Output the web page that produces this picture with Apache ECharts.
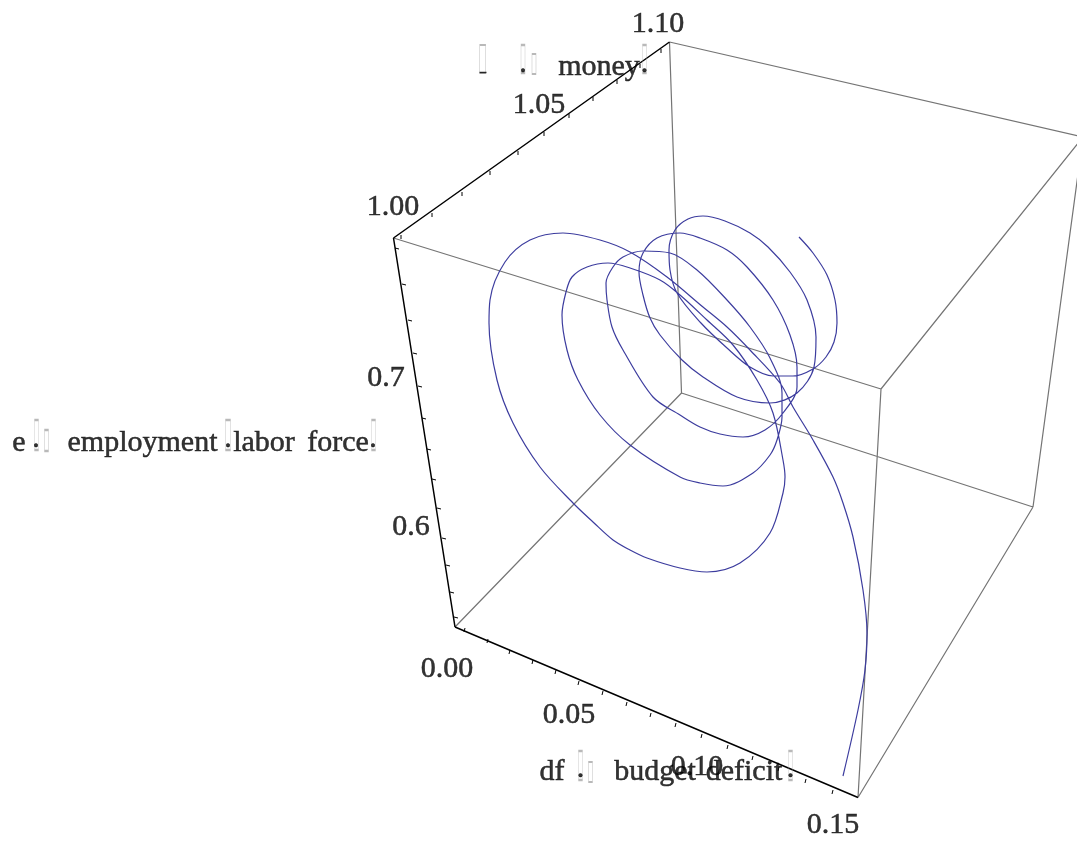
<!DOCTYPE html>
<html>
<head>
<meta charset="utf-8">
<style>html,body{margin:0;padding:0;background:#fff}#c{width:1077px;height:843px}</style>
<script src="https://cdn.jsdelivr.net/npm/echarts@6/dist/echarts.min.js"></script>
</head>
<body>
<div id="c"></div>
<script>
const curveX = [799,813,827,835,837,834,826,813,793,773,750,727,700,677,670,669,675,688,703,725,750,768,790,807,816,814,797,770,737,703,682,660,650,643,639,643,657,680,700,727,747,773,790,797,797,783,765,743,720,700,680,653,623,612,607,606,613,623,643,670,697,727,750,770,782,782,777,770,753,723,700,680,630,600,578,567,562,566,572,587,608,630,660,680,707,733,757,773,783,785,783,770,740,707,680,647,630,613,593,573,540,513,497,489,490,505,530,563,600,630,667,703,727,750,780,793,813,833,843,853,863,867,865,858,843];
const curveY = [237,253,275,300,323,342,357,369,376,376,367,348,322,293,270,250,230,219,216,221,233,247,272,300,337,367,393,403,397,377,360,335,318,295,272,253,238,233,238,250,267,300,335,367,387,413,430,437,434,427,415,397,350,327,300,283,267,257,251,253,270,300,327,358,393,417,440,455,473,486,483,477,445,415,380,350,315,292,277,267,263,268,280,295,320,345,380,413,460,477,493,533,563,572,568,558,550,540,522,503,467,423,380,323,300,262,240,233,240,252,277,307,327,350,383,407,440,477,503,537,590,633,670,710,776];

const cornerA = [393.5, 238];   // z = top, near-left
const cornerB = [669.5, 42];    // back-top
const cornerC = [1083, 137];    // far right, past the picture edge
const cornerD = [881, 389];     // front-top
const cornerE = [455, 627];     // 0.00
const cornerF = [858, 797.5];   // 0.15
const cornerG = [1033, 507];
const cornerH = [681.5, 393];

const grayEdges = [[cornerA,cornerD],[cornerB,cornerC],[cornerD,cornerC],[cornerD,cornerF],[cornerC,cornerG],[cornerF,cornerG],[cornerH,cornerB],[cornerH,cornerE],[cornerH,cornerG]];
const blackEdges = [[cornerA,cornerB],[cornerA,cornerE],[cornerE,cornerF]];

const moneyTicks = [[401,235],[432,213],[462,192],[490,171],[518,151],[544,132],[569,114],[593,97],[617,80],[640,64],[661,49]];
const employTicks = [[395,248],[402,284],[408,320],[413,353],[418,386],[422,418],[427,449],[432,479],[437,508],[442,538],[446,565],[450,592],[454,617]];
const deficitTicks = [[464,632],[487,643],[509,654],[532,664],[555,674],[578,685],[602,695],[626,706],[650,717],[675,727],[701,738],[727,749],[752,760],[778,771],[805,783],[832,794]];

const tickLabelNames = ['1.10','1.05','1.00','0.7','0.6','0.00','0.05','0.10','0.15'];
const tickLabelX = [658,539,393,386,411,447,569,697,833];
const tickLabelY = [24,105,207,378,527,669,715,767,825];

const titleWords = ['money','e','employment','labor','force','df','budget','deficit'];
const titleX = [599,19,142.5,264,338,552,655,744];
const titleY = [67,443,443,443,443,772,772,772];

const periodX = [523,644.5,36,228,373,580.5,790.5];
const periodY = [64,64,439,439,439,769,769];
const dashBoxes = [[483,72.5,7,1.5]];

const tofuBoxes = [[482.7,59,6,28],[523,59,4,28],[534,64,4,20],[644.5,59,4,28],
                   [36.5,435,4,30],[46.5,440.5,4,21],[228,435,5,30],[373.5,435,4,30],
                   [580.5,765.5,4,29],[590.5,772,4,20],[790.5,765.5,4,29]];

function edgesToLine(edges){const o=[];edges.forEach(e=>{o.push(e[0],e[1],[null,null]);});return o;}
function stubLine(ticks,dx,dy){const o=[];ticks.forEach(t=>{o.push(t,[t[0]+dx,t[1]+dy],[null,null]);});return o;}
const font = '"Liberation Serif","Times New Roman",serif';

function lineS(data,color,width,extra){return Object.assign({type:'line',data:data,showSymbol:false,symbol:'none',silent:true,connectNulls:false,clip:true,lineStyle:{color:color,width:width}},extra||{});}
function textS(names,xs,ys,z){return {type:'scatter',silent:true,z:z||5,symbolSize:1,itemStyle:{color:'rgba(0,0,0,0)'},
  data:names.map((n,i)=>({name:n,value:[xs[i],ys[i]]})),
  label:{show:true,position:'inside',formatter:'{b}',color:'#000',fontFamily:font,fontSize:30,align:'center',verticalAlign:'middle',textBorderColor:'#000',textBorderWidth:0.5}};}
function boxS(boxes,fill,stroke){return {type:'scatter',silent:true,z:4,symbol:'rect',data:boxes.map(b=>[b[0],b[1],b[2],b[3]]),
  symbolSize:(v)=>[v[2],v[3]],itemStyle:{color:fill,borderColor:stroke,borderWidth:stroke==='none'?0:1}};}

const chart = echarts.init(document.getElementById('c'),null,{renderer:'canvas'});
chart.setOption({
  animation:false,backgroundColor:'#fff',
  grid:{left:0,right:0,top:0,bottom:0},
  xAxis:{type:'value',min:0,max:1077,show:false},
  yAxis:{type:'value',min:0,max:843,inverse:true,show:false},
  series:[
    lineS(edgesToLine(grayEdges),'#747474',1.2),
    lineS(edgesToLine(blackEdges),'#000',1.5),
    lineS(stubLine(moneyTicks,0,4),'#000',1),
    lineS(stubLine(employTicks,4,1),'#000',1),
    lineS(stubLine(deficitTicks,1,-4),'#000',1),
    lineS(curveX.map((x,i)=>[x,curveY[i]]),'#3c3c9e',1.2,{smooth:0.33,z:3}),
    boxS(tofuBoxes,'rgba(0,0,0,0)','#a8a8a8'),
    boxS(dashBoxes,'#000','none'),
    textS(tickLabelNames,tickLabelX,tickLabelY),
    textS(titleWords,titleX,titleY),
    textS(periodX.map(()=>'.'),periodX,periodY)
  ]
});
</script>
</body>
</html>
